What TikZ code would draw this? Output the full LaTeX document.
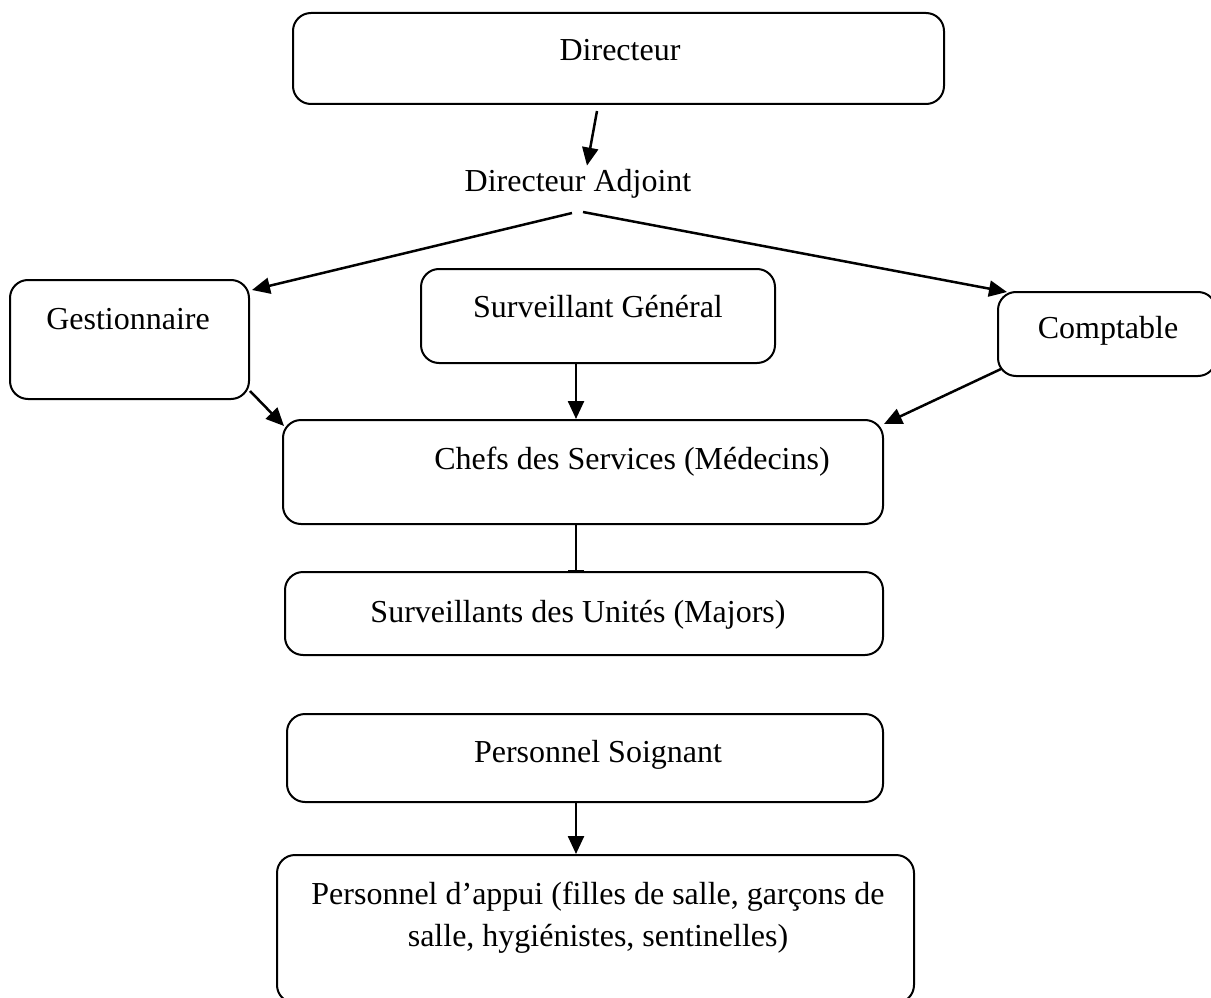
\documentclass[tikz,border=0pt]{standalone}
\usepackage{fontspec}
\setmainfont{Liberation Serif}
\usetikzlibrary{arrows.meta,calc}
\begin{document}
\begin{tikzpicture}[x=1pt,y=-1pt,
 box/.style={draw,line width=2pt,rounded corners=18pt,inner sep=0pt},
 lbl/.style={anchor=base,inner sep=0pt,font=\fontsize{32}{40}\selectfont},
 arr/.style={line width=2.5pt,-{Triangle[length=18pt,width=16pt]}},
 barline/.style={line width=2.5pt,-{Bar[width=16pt,line width=1.5pt]}}]
\useasboundingbox (0,0) rectangle (1211,998);
% boxes
\node[box,minimum width=651pt,minimum height=91pt] (D) at (618.5,58.5) {};
\node[box,minimum width=239pt,minimum height=119pt] (G) at (129.5,339.5) {};
\node[box,minimum width=354pt,minimum height=94pt] (SG) at (598,316) {};
\node[box,minimum width=218pt,minimum height=84pt] (C) at (1107,334) {};
\node[box,minimum width=600pt,minimum height=104pt] (CS) at (583,472) {};
\node[box,minimum width=598pt,minimum height=83pt] (SU) at (584,613.5) {};
\node[box,minimum width=596pt,minimum height=88pt] (PS) at (585,758) {};
\node[box,minimum width=637pt,minimum height=148pt] (PA) at (595.5,929) {};
% texts
\node[lbl] (tD) at (620,61) {Directeur};
\node[lbl] (A) at (578,191) {Directeur Adjoint};
\node[lbl] (tG) at (128,329) {Gestionnaire};
\node[lbl] (tSG) at (598,317) {Surveillant Général};
\node[lbl] (tC) at (1108,338) {Comptable};
\node[lbl] (tCS) at (632,469) {Chefs des Services (Médecins)};
\node[lbl] (tSU) at (578,622) {Surveillants des Unités (Majors)};
\node[lbl] (tPS) at (598,762) {Personnel Soignant};
\node[lbl] (tPA1) at (598,904) {Personnel d’appui (filles de salle, garçons de};
\node[lbl] (tPA2) at (598,946) {salle, hygiénistes, sentinelles)};
% connectors
\draw[arr] ($(D.south)+(-21.5,6)$) -- ($(A.north)+(9,-3)$);
\draw[arr] ($(A.south)+(-6,15)$) -- ($(G.north east)+(2,11)$);
\draw[arr] ($(A.south)+(5,14)$) -- ($(C.north west)+(10,1)$);
\draw[arr] ($(G.south east)+(0,-9)$) -- ($(CS.north west)+(2,7)$);
\draw[arr] ($(SG.south)+(-22,0)$) -- ($(CS.north)+(-7,0)$);
\draw[arr] ($(C.south west)+(4,-8)$) -- ($(CS.north east)+(0,5)$);
\draw[barline] ($(CS.south)+(-7,0)$) -- ($(SU.north)+(-8,0)$);
\draw[arr] ($(PS.south)+(-9,0)$) -- ($(PA.north)+(-19.5,0)$);
\end{tikzpicture}
\end{document}
